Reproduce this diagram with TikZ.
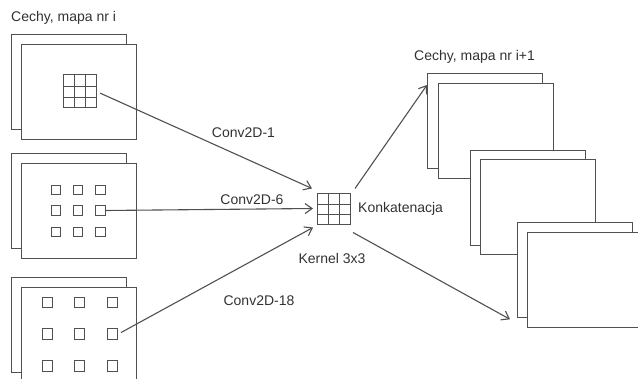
\documentclass[tikz,border=0pt]{standalone}
\usepackage{fontspec}
\setmainfont{Liberation Sans}
\usetikzlibrary{arrows.meta,calc}
\definecolor{ink}{RGB}{80,80,80}
\definecolor{txt}{RGB}{50,50,50}
\tikzset{
  sheet/.style={draw=ink, fill=white, line width=1.3pt, inner sep=0pt, anchor=north west,
    minimum width=115pt, minimum height=95pt},
  cell/.style={draw=ink, line width=1.2pt, inner sep=0pt, minimum size=#1},
  gridbox/.style={draw=ink, line width=1pt, inner sep=0pt, minimum width=33pt, minimum height=#1,
    path picture={
      \foreach \t in {0.3333,0.6667}{
        \draw[ink, line width=0.9pt]
          ($(path picture bounding box.north west)!\t!(path picture bounding box.north east)$) --
          ($(path picture bounding box.south west)!\t!(path picture bounding box.south east)$);
        \draw[ink, line width=0.9pt]
          ($(path picture bounding box.north west)!\t!(path picture bounding box.south west)$) --
          ($(path picture bounding box.north east)!\t!(path picture bounding box.south east)$);
      }}},
  label/.style={text=txt, font=\fontsize{14pt}{16pt}\selectfont, inner sep=0pt},
  flow/.style={draw=ink, line width=1.1pt, -{Straight Barb[length=7pt,width=10pt]}}
}
\begin{document}
\begin{tikzpicture}[x=1pt,y=-1pt]
\useasboundingbox (0,0) rectangle (638,379);
\clip (0,0) rectangle (638,379);

% input feature maps
\node[sheet] (m1b) at (11,34) {};
\node[sheet] (m1f) at (21,44) {};
\node[sheet] (m2b) at (11,153) {};
\node[sheet] (m2f) at (21,163) {};
\node[sheet] (m3b) at (11,277) {};
\node[sheet] (m3f) at (21,287) {};

% dilation patterns
\node[gridbox=33pt] (g1) at (79.5,91.5) {};
\foreach \c [count=\i] in {56,78,100.5}{
  \foreach \r [count=\j] in {190,210.5,232}{
    \node[cell=9.5pt] (p\j\i) at (\c,\r) {};
  }
}
\foreach \c [count=\i] in {47.5,79.5,112.5}{
  \foreach \r [count=\j] in {302.5,334,366}{
    \node[cell=10.5pt] (q\j\i) at (\c,\r) {};
  }
}

% kernel
\node[gridbox=31pt] (k) at (334,209.5) {};

% output feature maps
\node[sheet] (a1) at (427,73) {};
\node[sheet] (a2) at (438,83) {};
\node[sheet] (b1) at (470,150) {};
\node[sheet] (b2) at (480,159) {};
\node[sheet] (c1) at (517,222) {};
\node[sheet] (c2) at (527,232) {};

% labels
\node[label, anchor=west] (t1) at (11,18) {Cechy, mapa nr i};
\node[label, anchor=west] (t2) at (414,57) {Cechy, mapa nr i+1};
\node[label] (l1) at (243.5,133) {Conv2D-1};
\node[label] (l6) at (252,200) {Conv2D-6};
\node[label] (l18) at (259,301) {Conv2D-18};
\node[label, anchor=west] (kc) at (358,209) {Konkatenacja};
\node[label] (kn) at (332,258) {Kernel 3x3};

% connectors
\draw[flow, shorten <=4pt] (g1.east) -- ([xshift=-5pt,yshift=5pt]k.north west);
\draw[flow] (p23.east) -- ([xshift=-4pt,yshift=1pt]k.west);
\draw[flow, shorten <=3pt] (q23.east) -- ([xshift=-4pt,yshift=-2pt]k.south west);
\draw[flow] ([xshift=4pt,yshift=5pt]k.north east) -- ([yshift=-12pt]a1.north west);
\draw[flow] ([xshift=2pt,yshift=-7pt]k.south east) -- ([xshift=-7pt,yshift=-1pt]c1.south west);
\end{tikzpicture}
\end{document}
